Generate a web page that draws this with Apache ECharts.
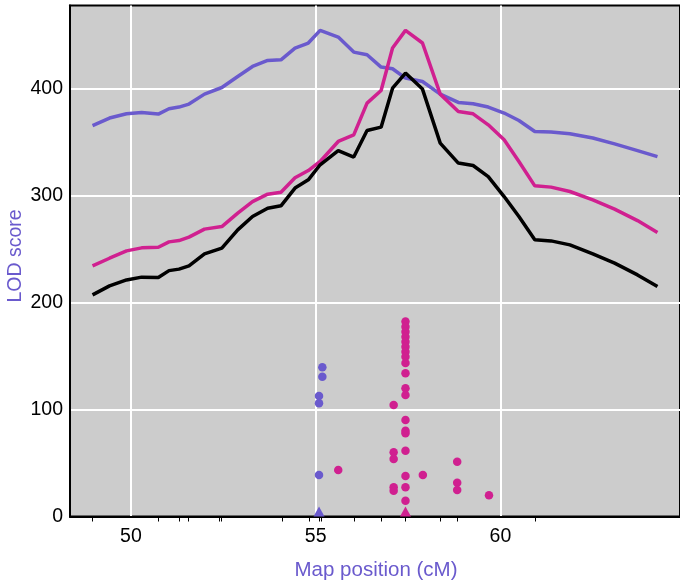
<!DOCTYPE html>
<html>
<head>
<meta charset="utf-8">
<script src="https://cdn.jsdelivr.net/npm/echarts@6/dist/echarts.min.js"></script>
<style>html,body{margin:0;padding:0;background:#fff}#c{width:680px;height:584px}</style>
</head>
<body>
<div id="c"></div>
<script>
// Map positions (cM) of the scan points
const positions = [48.96,49.42,49.88,50.29,50.74,51.03,51.30,51.57,51.99,52.46,52.89,53.29,53.70,54.06,54.44,54.80,55.12,55.61,56.03,56.39,56.77,57.08,57.43,57.89,58.37,58.86,59.26,59.67,60.10,60.50,60.93,61.37,61.88,62.50,63.09,63.71,64.25];
// LOD curves
const lodPurple = [365.7,372.7,376.7,377.9,376.4,381.4,383.0,385.8,395.1,401.3,411.6,421.0,426.6,427.2,438.2,442.9,454.7,448.5,434.4,431.9,420.4,418.8,410.1,406.9,395.1,387.3,386.1,383.0,377.4,370.4,360.1,359.6,358.0,354.0,348.6,342.3,336.7];
const lodMagenta = [234.4,241.6,248.5,251.3,251.9,256.9,258.1,261.3,268.8,271.2,283.8,294.6,301.5,303.4,316.8,323.6,332.1,350.8,357.0,386.7,398.5,438.2,454.7,442.9,395.1,378.8,376.7,366.4,352.4,332.1,309.3,308.1,304.0,296.2,287.5,276.8,265.6];
const lodBlack = [207.3,215.7,221.3,223.9,223.5,230.0,231.4,234.4,245.7,251.0,268.1,280.6,288.4,290.6,307.2,314.9,329.0,342.3,336.2,361.1,364.2,400.7,414.8,399.8,349.3,330.6,328.3,318.0,299.3,280.6,258.8,257.8,254.1,245.7,237.0,226.0,215.1];
// Individual QTL points
const purpleDotX = [55.18,55.18,55.09,55.09,55.09];
const purpleDotY = [139.6,130.8,112.8,105.9,38.8];
const magentaDotX = [57.43,57.43,57.43,57.43,57.43,57.43,57.43,57.43,57.43,57.43,57.43,57.43,57.43,57.43,57.43,57.43,57.43,57.43,57.43,57.11,57.11,57.11,57.11,57.11,55.61,57.90,58.83,58.83,58.83,59.69];
const magentaDotY = [182.3,177.6,172.9,168.2,163.5,158.8,154.2,149.5,143.6,134.0,120.0,113.7,90.3,80.3,77.9,61.6,37.9,27.3,14.8,104.4,60.1,53.8,27.3,24.1,43.5,38.8,51.3,31.6,24.8,19.8];
// Peak positions (triangles)
const purplePeakX = [55.09];
const magentaPeakX = [57.43];
// Marker positions (rug ticks)
const markerPositions = [48.96,50.75,51.30,51.56,52.40,52.45,54.09,54.82,55.09,55.16,56.05,56.78,57.43,58.37,58.84,60.95];
// Tick labels
const xTickLabels = [50,55,60];
const yTickLabels = [0,100,200,300,400];

const PURPLE = '#6A5ACD', MAGENTA = '#D02090', BLACK = '#000000';
const FONT = 'Liberation Sans, Arial, sans-serif';
const XMIN = 48.35, XMAX = 64.86, YMIN = 0, YMAX = 478;

const zip = (xs, ys) => xs.map((x, i) => [x, ys[i]]);

const chart = echarts.init(document.getElementById('c'), null, {renderer: 'canvas'});
chart.setOption({
  animation: false,
  backgroundColor: '#ffffff',
  grid: {left: 70, top: 5.5, right: -3, bottom: 67.5, show: true, backgroundColor: '#cccccc', borderColor: '#000', borderWidth: 2},
  xAxis: [{
    type: 'value', min: XMIN, max: XMAX,
    axisLine: {show: true, lineStyle: {color: '#000', width: 2}},
    axisTick: {show: false, customValues: xTickLabels},
    axisLabel: {customValues: xTickLabels, color: '#000', fontSize: 19.5, fontFamily: FONT, margin: 10},
    splitLine: {show: true, lineStyle: {color: '#ffffff', width: 2}}
  }, {
    type: 'value', min: XMIN, max: XMAX, position: 'bottom',
    axisLine: {show: false},
    axisTick: {show: true, customValues: markerPositions, length: 5, inside: false, lineStyle: {color: '#000', width: 1}},
    axisLabel: {show: false},
    splitLine: {show: false}
  }],
  yAxis: {
    type: 'value', min: YMIN, max: YMAX,
    axisLine: {show: true, lineStyle: {color: '#000', width: 2}},
    axisTick: {show: false, customValues: yTickLabels},
    axisLabel: {customValues: yTickLabels, color: '#000', fontSize: 19.5, fontFamily: FONT, margin: 7},
    splitLine: {show: true, lineStyle: {color: '#ffffff', width: 2}}
  },
  graphic: [
    {type: 'text', x: 16, y: 256, rotation: Math.PI / 2, style: {text: 'LOD score', fill: PURPLE, font: '19.5px ' + FONT, textAlign: 'center', textVerticalAlign: 'middle'}},
    {type: 'text', x: 376, y: 570, style: {text: 'Map position (cM)', fill: PURPLE, font: '20.5px ' + FONT, textAlign: 'center', textVerticalAlign: 'middle'}}
  ],
  series: [
    {type: 'line', data: zip(positions, lodPurple), showSymbol: false, lineStyle: {color: PURPLE, width: 3.5}, z: 3},
    {type: 'line', data: zip(positions, lodMagenta), showSymbol: false, lineStyle: {color: MAGENTA, width: 3.5}, z: 4},
    {type: 'line', data: zip(positions, lodBlack), showSymbol: false, lineStyle: {color: BLACK, width: 3.5}, z: 5},
    {type: 'scatter', data: zip(purpleDotX, purpleDotY), symbol: 'circle', symbolSize: 8.5, itemStyle: {color: PURPLE, opacity: 1}, z: 6},
    {type: 'scatter', data: zip(magentaDotX, magentaDotY), symbol: 'circle', symbolSize: 8.5, itemStyle: {color: MAGENTA, opacity: 1}, z: 6},
    {type: 'scatter', data: purplePeakX.map(x => [x, 0]), symbol: 'triangle', symbolSize: [11, 10], symbolOffset: [0, -5], itemStyle: {color: PURPLE, opacity: 1}, z: 6, clip: false},
    {type: 'scatter', data: magentaPeakX.map(x => [x, 0]), symbol: 'triangle', symbolSize: [11, 10], symbolOffset: [0, -5], itemStyle: {color: MAGENTA, opacity: 1}, z: 6, clip: false}
  ]
});
</script>
</body>
</html>
